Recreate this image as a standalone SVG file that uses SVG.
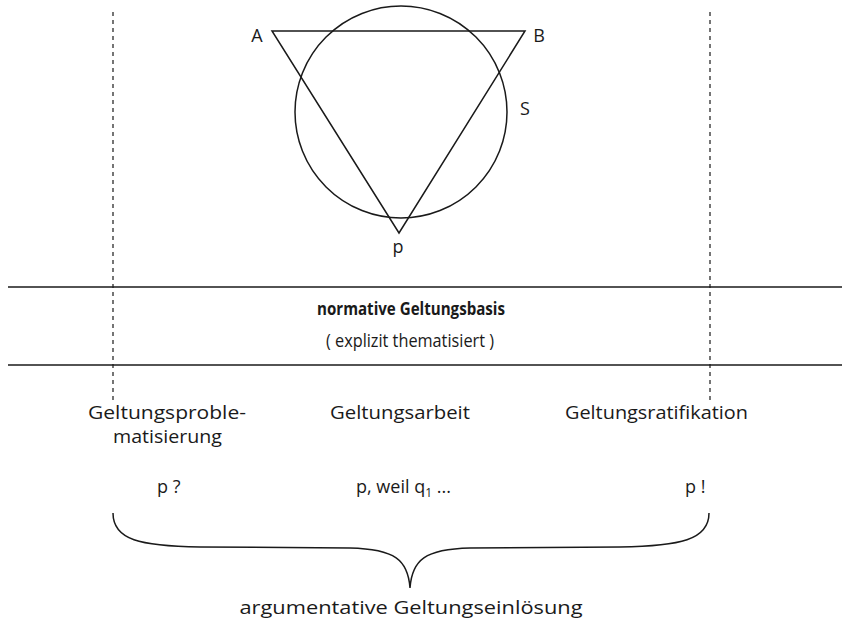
<svg xmlns="http://www.w3.org/2000/svg" width="842" height="618" viewBox="0 0 842 618">
<style>
text{font-family:"Open Sans","Liberation Sans",sans-serif;fill:#1a1a1a;font-size:18px}
.c{text-anchor:middle}
.ln{stroke:#1a1a1a;stroke-width:1.5;fill:none}
.dash{stroke:#1a1a1a;stroke-width:1.2;stroke-dasharray:4 4;fill:none}
</style>
<rect width="842" height="618" fill="#fff"/>
<g id="geometry">
<circle class="ln" cx="401" cy="112" r="106"/>
<polygon class="ln" points="272,31 525,31 399,233"/>
</g>
<g id="labels-top">
<text x="257" y="42" class="c" font-size="17">A</text>
<text x="539" y="42" class="c" font-size="17">B</text>
<text x="525" y="115" class="c" font-size="17">S</text>
<text x="398" y="253" class="c" font-size="17">p</text>
</g>
<g id="connectors">
<line class="dash" x1="113" y1="12" x2="113" y2="400"/>
<line class="dash" x1="710" y1="12" x2="710" y2="400"/>
<line class="ln" x1="8" y1="287" x2="842" y2="287"/>
<line class="ln" x1="8" y1="365" x2="842" y2="365"/>
<path class="ln" d="M113,513 C113,540 140,546 200,547 L350,548 C395,549 408,560 410,588 C412,560 425,549 470,548 L620,547 C680,546 709,540 709,513"/>
</g>
<g id="basis">
<text x="411" y="315" class="c" font-weight="bold" textLength="188" lengthAdjust="spacingAndGlyphs">normative Geltungsbasis</text>
<text x="410" y="347" class="c" font-size="17" textLength="168" lengthAdjust="spacingAndGlyphs">( explizit thematisiert )</text>
</g>
<g id="phases">
<text x="88" y="419" textLength="158" lengthAdjust="spacingAndGlyphs">Geltungsproble-</text>
<text x="113" y="443" textLength="109" lengthAdjust="spacingAndGlyphs">matisierung</text>
<text x="400" y="419" class="c" textLength="140" lengthAdjust="spacingAndGlyphs">Geltungsarbeit</text>
<text x="565" y="419" textLength="183" lengthAdjust="spacingAndGlyphs">Geltungsratifikation</text>
</g>
<g id="formulas">
<text x="157" y="493">p ?</text>
<text x="356" y="493">p, weil q<tspan font-size="12" dy="4">1</tspan><tspan dy="-4"> ...</tspan></text>
<text x="685" y="493">p !</text>
</g>
<g id="result">
<text x="411" y="614" class="c" textLength="343" lengthAdjust="spacingAndGlyphs">argumentative Geltungseinlösung</text>
</g>
</svg>
